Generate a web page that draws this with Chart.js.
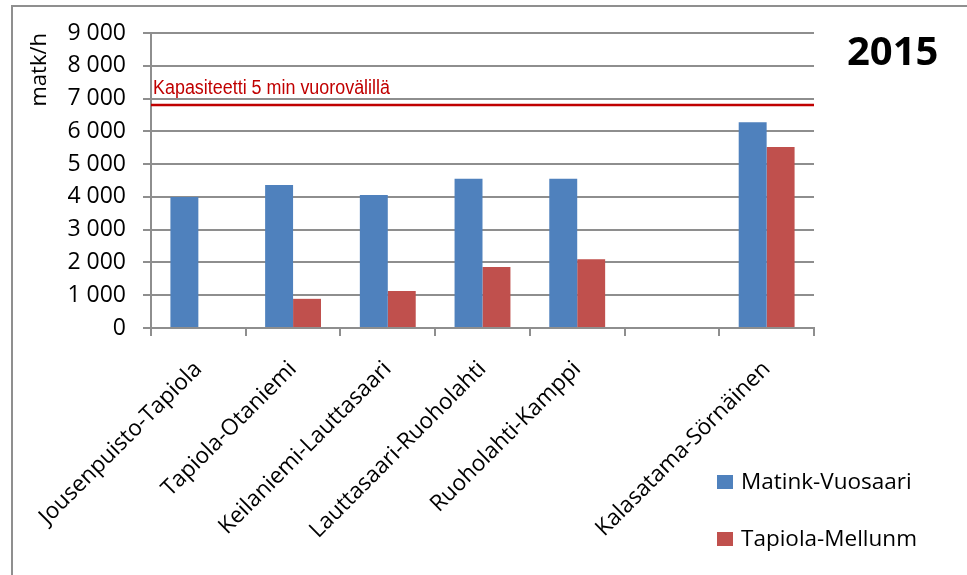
<!DOCTYPE html>
<html>
<head>
<meta charset="utf-8">
<script src="https://cdn.jsdelivr.net/npm/chart.js@4/dist/chart.umd.min.js"></script>
<style>
  html, body { margin: 0; padding: 0; background: #fff; }
  #wrap { position: relative; width: 967px; height: 575px; overflow: hidden; }
  #frame { position: absolute; left: 11px; top: 5px; width: 1000px; height: 700px; border: 2px solid #8f8f8f; box-sizing: border-box; }
  canvas { position: absolute; left: 0; top: 0; }
</style>
</head>
<body>
<div id="wrap">
  <div id="frame"></div>
  <canvas id="c" width="967" height="575"></canvas>
</div>
<script>
const categories = ['Jousenpuisto-Tapiola', 'Tapiola-Otaniemi', 'Keilaniemi-Lauttasaari', 'Lauttasaari-Ruoholahti', 'Ruoholahti-Kamppi', '', 'Kalasatama-Sörnäinen'];
const seriesNames = ['Matink-Vuosaari', 'Tapiola-Mellunm'];
const matinkVuosaari = [4000, 4360, 4060, 4550, 4550, null, 6280];
const tapiolaMellunm = [null, 890, 1130, 1860, 2100, null, 5520];
const capacity = [6800];
const capacityLabel = 'Kapasiteetti 5 min vuorovälillä';
const yTicks = [0, 1000, 2000, 3000, 4000, 5000, 6000, 7000, 8000, 9000];
const yTitle = 'matk/h';
const chartTitle = '2015';

const FONT = "'Open Sans', 'DejaVu Sans', sans-serif";
const GRID = '#8e8e8e';

const overlay = {
  id: 'overlay',
  afterDatasetsDraw(chart) {
    const ctx = chart.ctx;
    const ca = chart.chartArea;
    const y = chart.scales.y;
    capacity.forEach(v => {
      const py = y.getPixelForValue(v);
      ctx.save();
      ctx.strokeStyle = '#c00000';
      ctx.lineWidth = 2.5;
      ctx.beginPath();
      ctx.moveTo(ca.left, py);
      ctx.lineTo(ca.right, py);
      ctx.stroke();
      ctx.fillStyle = '#c00000';
      ctx.font = "20px 'Liberation Sans', sans-serif";
      ctx.textAlign = 'left';
      ctx.textBaseline = 'alphabetic';
      const w = ctx.measureText(capacityLabel).width;
      const sx = 237 / w;
      ctx.translate(ca.left + 2, py - 11);
      ctx.scale(sx, 1);
      ctx.fillText(capacityLabel, 0, 0);
      ctx.restore();
    });
  },
  afterDraw(chart) {
    const ctx = chart.ctx;
    ctx.save();
    ctx.fillStyle = '#000';
    ctx.font = "bold 40px " + FONT;
    ctx.textAlign = 'left';
    ctx.textBaseline = 'middle';
    ctx.fillText(chartTitle, 847, 54);
    chart.data.datasets.forEach((ds, i) => {
      const top = 475 + i * 57;
      ctx.fillStyle = ds.backgroundColor;
      ctx.fillRect(717, top, 16, 14);
      ctx.fillStyle = '#000';
      ctx.font = "22.5px " + FONT;
      ctx.textBaseline = 'middle';
      ctx.fillText(ds.label, 741, top + 8);
    });
    ctx.restore();
  }
};

new Chart(document.getElementById('c'), {
  type: 'bar',
  data: {
    labels: categories,
    datasets: [
      { label: seriesNames[0], data: matinkVuosaari, backgroundColor: '#4f81bd' },
      { label: seriesNames[1], data: tapiolaMellunm, backgroundColor: '#c0504d' }
    ]
  },
  options: {
    responsive: false,
    devicePixelRatio: 1,
    animation: false,
    datasets: { bar: { categoryPercentage: 0.59, barPercentage: 1.0 } },
    layout: { padding: { top: 33, right: 153, left: 0, bottom: 0 } },
    plugins: { legend: { display: false }, tooltip: { enabled: false } },
    scales: {
      x: {
        afterFit(s) { s.height = 575 - 328; },
        grid: { drawOnChartArea: false, drawTicks: true, tickLength: 8, color: GRID, lineWidth: 2, offset: true },
        border: { display: true, color: GRID, width: 2 },
        ticks: { maxRotation: 45, minRotation: 45, autoSkip: false, padding: 20, color: '#000', font: { family: FONT, size: 22.5 } }
      },
      y: {
        min: 0, max: 9000,
        afterFit(s) { s.width = 151; },
        afterBuildTicks(s) { s.ticks = yTicks.map(v => ({ value: v })); },
        grid: { color: GRID, lineWidth: 2, tickLength: 8, drawTicks: true },
        border: { display: true, color: GRID, width: 2 },
        ticks: {
          padding: 17, color: '#000', font: { family: FONT, size: 23 },
          callback: v => String(v).replace(/\B(?=(\d{3})+(?!\d))/g, ' ')
        },
        title: { display: true, text: yTitle, align: 'end', color: '#000', font: { family: FONT, size: 22 }, padding: { top: 27, bottom: 0 } }
      }
    }
  },
  plugins: [overlay]
});
</script>
</body>
</html>
